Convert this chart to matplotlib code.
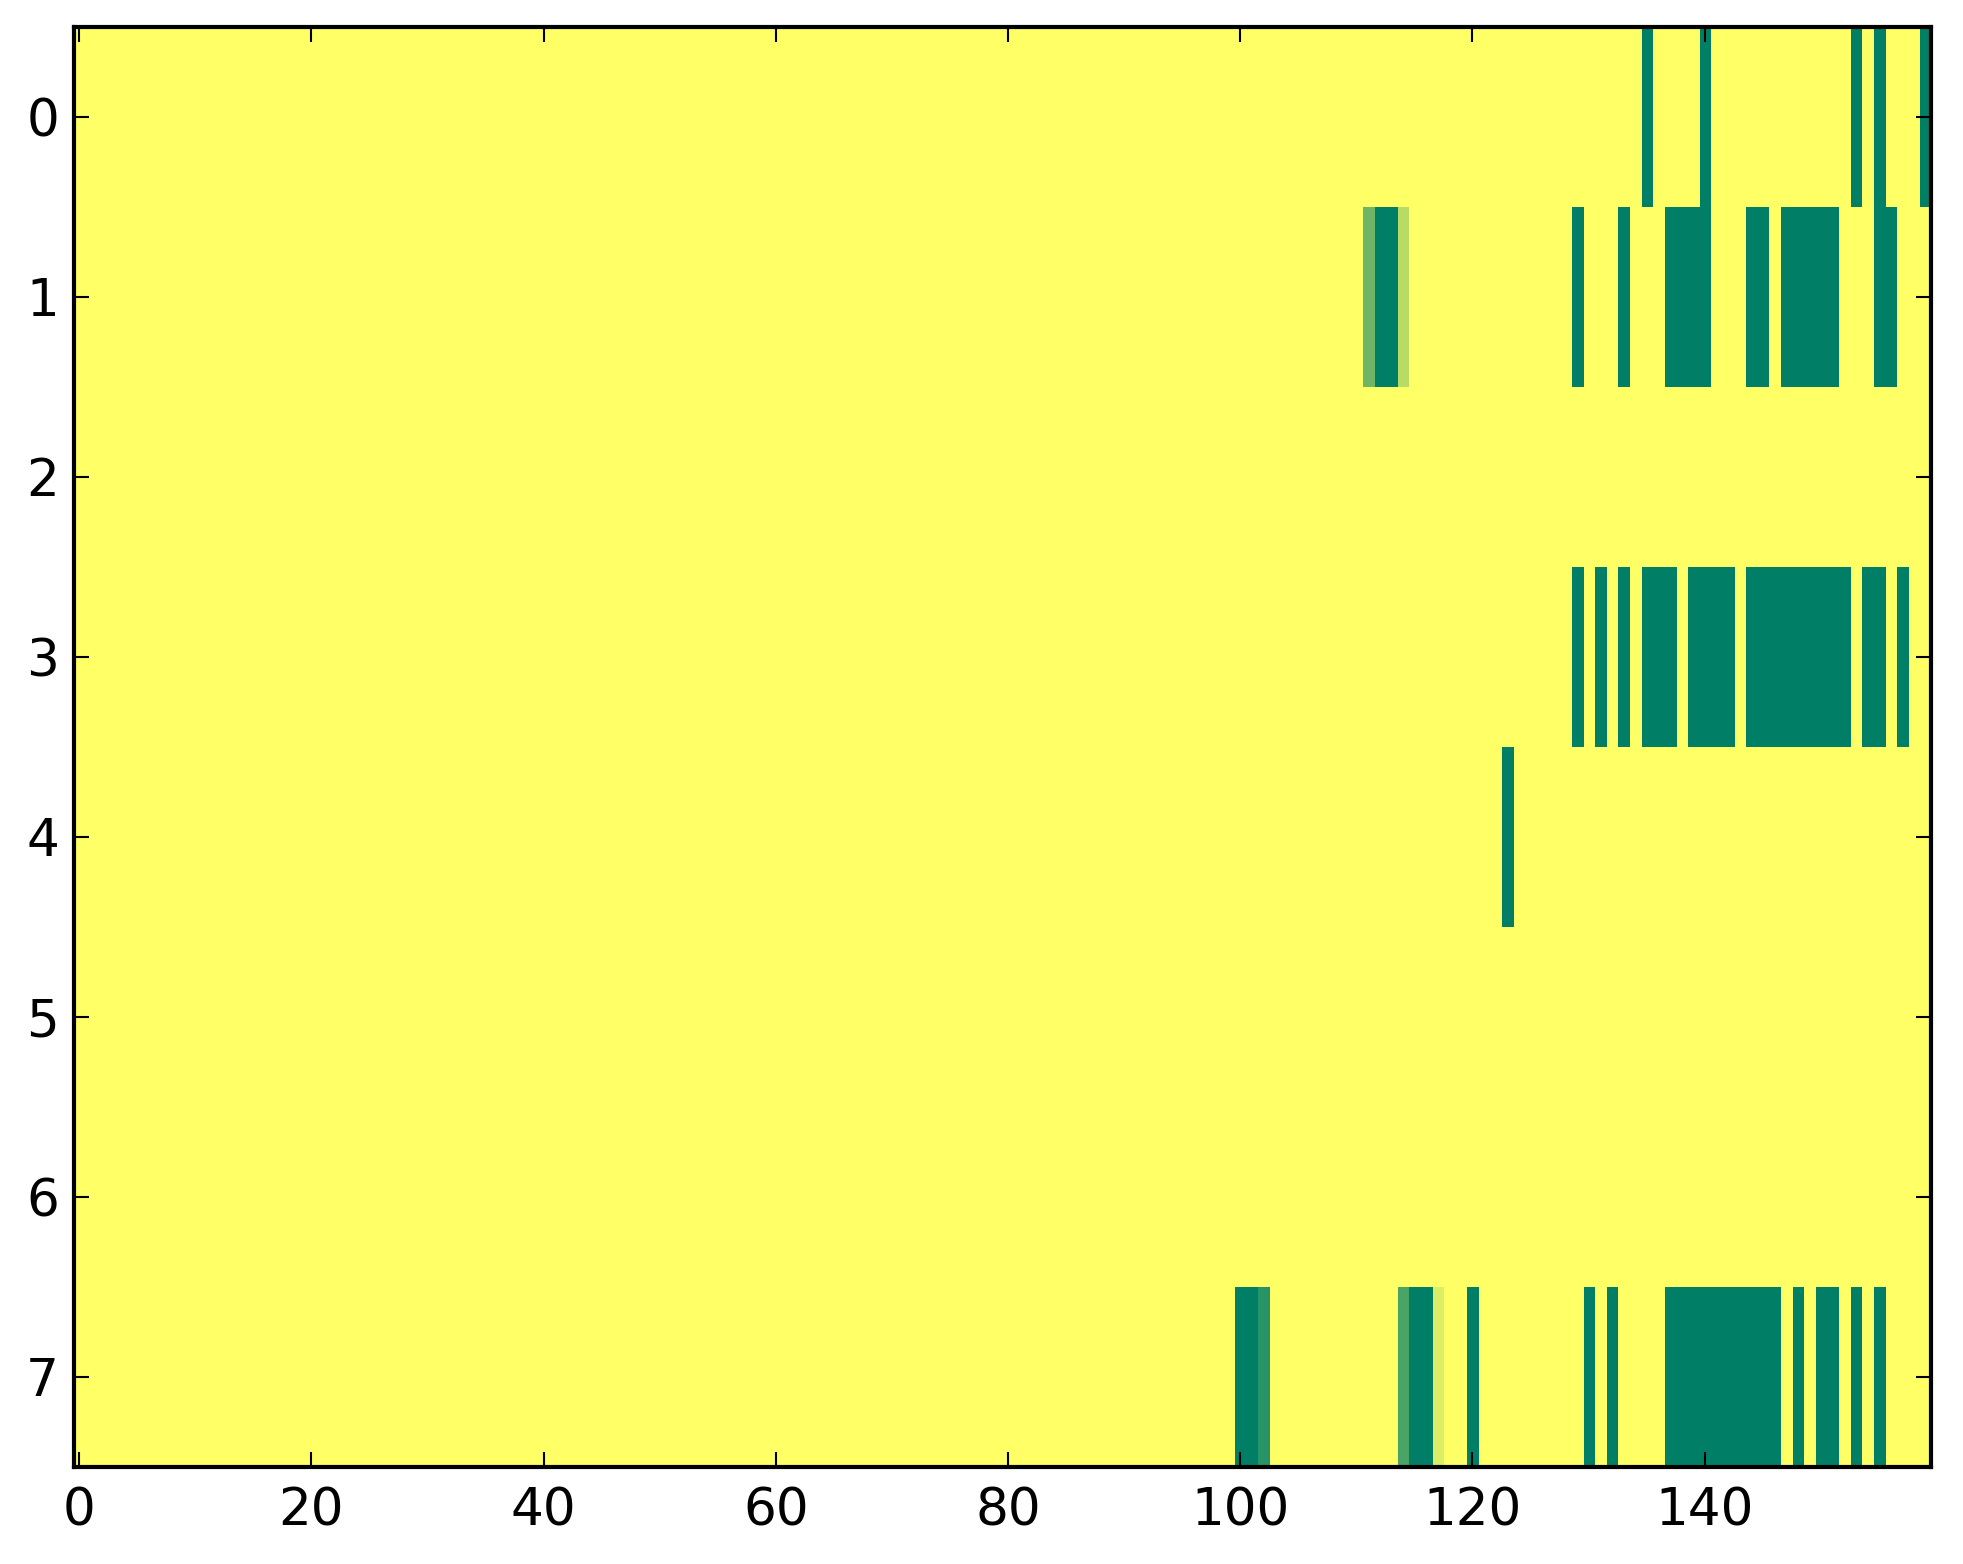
import numpy as np
import matplotlib.pyplot as plt

# 8 rows x 160 columns, 0 = yellow, 1 = dark green (summer_r)
n_rows = 8
n_cols = 160

# columns that are fully "on" in each row
row0_on = [135, 140, 153, 155, 159]
row1_on = [112, 113, 129, 133, 137, 138, 139, 140, 144, 145,
           147, 148, 149, 150, 151, 155, 156]
row2_on = []
row3_on = [129, 131, 133, 135, 136, 137, 139, 140, 141, 142,
           144, 145, 146, 147, 148, 149, 150, 151, 152, 154, 155, 157]
row4_on = [123]
row5_on = []
row6_on = []
row7_on = [100, 101, 115, 116, 120, 130, 132, 137, 138, 139, 140,
           141, 142, 143, 144, 145, 146, 148, 150, 151, 153, 155]

# partial values (row, column, value)
partial = [(1, 111, 0.57), (1, 114, 0.28),
           (7, 102, 0.84), (7, 114, 0.71), (7, 117, 0.14)]

rows_on = [row0_on, row1_on, row2_on, row3_on, row4_on, row5_on, row6_on, row7_on]

grid = np.zeros((n_rows, n_cols))
for r, cols in enumerate(rows_on):
    grid[r, cols] = 1.0
for r, c, v in partial:
    grid[r, c] = v

fig = plt.figure(figsize=(1963/200, 1564/200), dpi=200)
ax = fig.add_axes([73.5/1963, 1-1467/1564, (1931-73.5)/1963, (1467-27)/1564])

ax.imshow(grid, cmap='summer_r', vmin=0, vmax=1, aspect='auto', interpolation='nearest')

ax.set_xticks(np.arange(0, 160, 20))
ax.set_yticks(np.arange(0, 8))
ax.tick_params(direction='in', length=5.4, width=0.75, top=True, right=True,
               labelsize=18.6)
ax.tick_params(axis='x', pad=7)
ax.tick_params(axis='y', pad=5.2)
for s in ax.spines.values():
    s.set_linewidth(1.5)

fig.savefig('out.png', dpi=200)
